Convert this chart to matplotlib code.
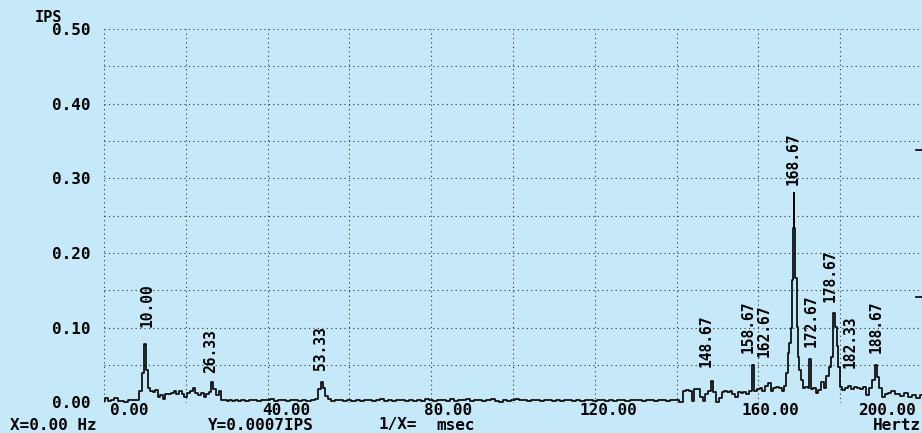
import numpy as np
import matplotlib
matplotlib.use("Agg")
import matplotlib.pyplot as plt

# spectrum (Hz, IPS), in three pieces
low_freq = [0, 0.7, 1.3, 2, 3, 3.7, 4.5, 5.5, 6.3, 7.3,
            8.3, 9.0, 9.5, 10.0, 10.5, 11.0, 11.6, 12.3, 12.8, 13.4,
            14, 14.7, 15.3, 16, 16.7, 17.3, 18, 18.7, 19.3, 20,
            20.7, 21.3, 22, 22.6, 23.3, 24, 24.7, 25.3, 26.0, 26.33,
            27, 27.7, 28.3, 29, 29.7, 30.3, 31, 31.7, 32.3, 33,
            34, 35, 36, 37, 38, 39, 40, 41, 42, 43,
            44, 45, 46, 47, 48, 49, 50, 51, 52, 52.7,
            53.33, 53.7, 54.3]
low_amp = [0.002, 0.006, 0.002, 0.003, 0.006, 0.002, 0.002, 0.001, 0.004, 0.004,
           0.003, 0.015, 0.040, 0.078, 0.044, 0.019, 0.015, 0.014, 0.017, 0.007,
           0.010, 0.005, 0.012, 0.011, 0.013, 0.015, 0.012, 0.016, 0.011, 0.007,
           0.013, 0.016, 0.019, 0.013, 0.010, 0.013, 0.008, 0.011, 0.014, 0.028,
           0.018, 0.010, 0.016, 0.003, 0.004, 0.002, 0.003, 0.002, 0.003, 0.002,
           0.004, 0.002, 0.003, 0.003, 0.002, 0.004, 0.003, 0.005, 0.002, 0.004,
           0.003, 0.002, 0.004, 0.003, 0.002, 0.004, 0.002, 0.003, 0.005, 0.018,
           0.028, 0.019, 0.009]

# flat stretch, one reading per Hz from 55 to 141
flat_freq = np.arange(55, 142)
flat_amp = [0.005, 0.002, 0.004, 0.003, 0.002, 0.004, 0.002, 0.003, 0.002, 0.004,
            0.003, 0.002, 0.003, 0.005, 0.002, 0.003, 0.002, 0.004, 0.003, 0.002,
            0.003, 0.002, 0.004, 0.002, 0.005, 0.003, 0.002, 0.004, 0.003, 0.002,
            0.005, 0.002, 0.004, 0.003, 0.005, 0.002, 0.004, 0.003, 0.002, 0.004,
            0.005, 0.002, 0.001, 0.003, 0.002, 0.004, 0.005, 0.003, 0.004, 0.002,
            0.003, 0.004, 0.002, 0.003, 0.004, 0.002, 0.003, 0.002, 0.004, 0.003,
            0.002, 0.003, 0.002, 0.004, 0.003, 0.002, 0.003, 0.004, 0.002, 0.003,
            0.002, 0.004, 0.003, 0.002, 0.003, 0.004, 0.003, 0.002, 0.003, 0.004,
            0.002, 0.003, 0.004, 0.002, 0.003, 0.004, 0.001]

high_freq = [142, 142.7, 143.3, 144, 144.7, 145.3, 146, 146.7, 147.3, 148,
             148.67, 149.3, 150, 150.7, 151.3, 152, 152.7, 153.3, 154, 154.7,
             155.3, 156, 156.7, 157.3, 158, 158.67, 159.3, 160, 160.7, 161.3,
             162, 162.67, 163.3, 164, 164.7, 165.3, 166, 166.7, 167, 167.4,
             167.7, 168, 168.3, 168.5, 168.67, 168.9, 169.2, 169.5, 169.8, 170.2,
             170.7, 171.2, 171.8, 172.3, 172.67, 173, 173.7, 174.3, 175, 175.7,
             176.3, 177, 177.6, 178, 178.67, 179, 179.3, 179.7, 180.2, 180.8,
             181.5, 182.33, 183, 183.7, 184.5, 185.2, 186, 186.8, 187.5, 188.2,
             188.67, 189.2, 189.7, 190.5, 191.3, 192, 193, 194, 195, 196,
             197, 198, 199, 200]
high_amp = [0.015, 0.017, 0.016, 0.002, 0.018, 0.018, 0.008, 0.002, 0.012, 0.015,
            0.029, 0.014, 0.001, 0.006, 0.014, 0.015, 0.014, 0.016, 0.011, 0.007,
            0.014, 0.013, 0.014, 0.012, 0.016, 0.050, 0.015, 0.018, 0.019, 0.015,
            0.022, 0.026, 0.015, 0.020, 0.021, 0.020, 0.015, 0.022, 0.039, 0.066,
            0.079, 0.100, 0.164, 0.233, 0.280, 0.233, 0.167, 0.101, 0.061, 0.043,
            0.030, 0.019, 0.021, 0.020, 0.058, 0.018, 0.020, 0.013, 0.017, 0.028,
            0.020, 0.035, 0.048, 0.061, 0.120, 0.101, 0.075, 0.048, 0.021, 0.017,
            0.020, 0.022, 0.018, 0.021, 0.020, 0.018, 0.021, 0.010, 0.020, 0.030,
            0.050, 0.034, 0.020, 0.008, 0.012, 0.013, 0.016, 0.012, 0.009, 0.013,
            0.007, 0.010, 0.006, 0.010]

# peak labels: text, centre (Hz), bottom of text (IPS)
peak_text = ['10.00', '26.33', '53.33', '148.67', '158.67', '162.67',
             '168.67', '172.67', '178.67', '182.33', '188.67']
peak_x = [10.6, 26.1, 53.0, 147.3, 157.6, 161.5, 168.5, 172.9, 177.6, 182.4, 188.7]
peak_y = [0.101, 0.0395, 0.0435, 0.0475, 0.066, 0.061, 0.291, 0.074, 0.1345, 0.046, 0.066]

xtick_text = ['0.00', '40.00', '80.00', '120.00', '160.00', '200.00']
xtick_x = [6.1, 44.6, 84.1, 123.2, 162.9, 191.5]
ytick_vals = [0.0, 0.1, 0.2, 0.3, 0.4, 0.5]
right_marks = [0.338, 0.141]

freq = np.concatenate([low_freq, flat_freq, high_freq])
amp = np.concatenate([low_amp, flat_amp, high_amp])

bg = '#c6e9f9'
mono = {'family': 'DejaVu Sans Mono', 'weight': 'bold'}

fig = plt.figure(figsize=(9.22, 4.33), dpi=100, facecolor=bg)
ax = fig.add_axes([104/922, 30.5/433, 818/922, 373.5/433])
ax.set_facecolor(bg)

ax.plot(freq, amp, color='black', lw=1.2, drawstyle='steps-mid', zorder=3)

ax.set_xlim(0, 200)
ax.set_ylim(0, 0.5)
ax.set_xticks(np.arange(0, 201, 20))
ax.set_yticks(np.arange(0, 0.51, 0.05))
ax.grid(True, color='#333333', linestyle=(0, (1, 3)), lw=0.8)
ax.tick_params(length=0, labelbottom=False, labelleft=False)
for s in ax.spines.values():
    s.set_visible(False)

# y labels sit a little under their grid line, like on the screen
for v in ytick_vals:
    ax.text(-14 / 4.1, v - 0.002, '%.2f' % v, ha='right', va='center', fontsize=11.5, **mono)
for t, x in zip(xtick_text, xtick_x):
    ax.text(x, -0.0105, t, ha='center', va='center', fontsize=11.5, **mono)

for t, x, y in zip(peak_text, peak_x, peak_y):
    ax.text(x, y, t, rotation=90, ha='center', va='bottom', fontsize=10.5, **mono)

for y in right_marks:
    ax.plot([198.6, 200], [y, y], color='black', lw=1.2, clip_on=False)

fig.text(35/922, 1 - 17/433, 'IPS', ha='left', va='center', fontsize=11, **mono)
fig.text(10/922, 1 - 425/433, 'X=0.00 Hz', ha='left', va='center', fontsize=11.5, **mono)
fig.text(208/922, 1 - 425/433, 'Y=0.0007IPS', ha='left', va='center', fontsize=11.5, **mono)
fig.text(378/922, 1 - 425/433, '1/X=', ha='left', va='center', fontsize=11.5, **mono)
fig.text(436/922, 1 - 425/433, 'msec', ha='left', va='center', fontsize=11.5, **mono)
fig.text(921/922, 1 - 425/433, 'Hertz', ha='right', va='center', fontsize=11.5, **mono)

fig.savefig('out.png', dpi=100, facecolor=bg)
